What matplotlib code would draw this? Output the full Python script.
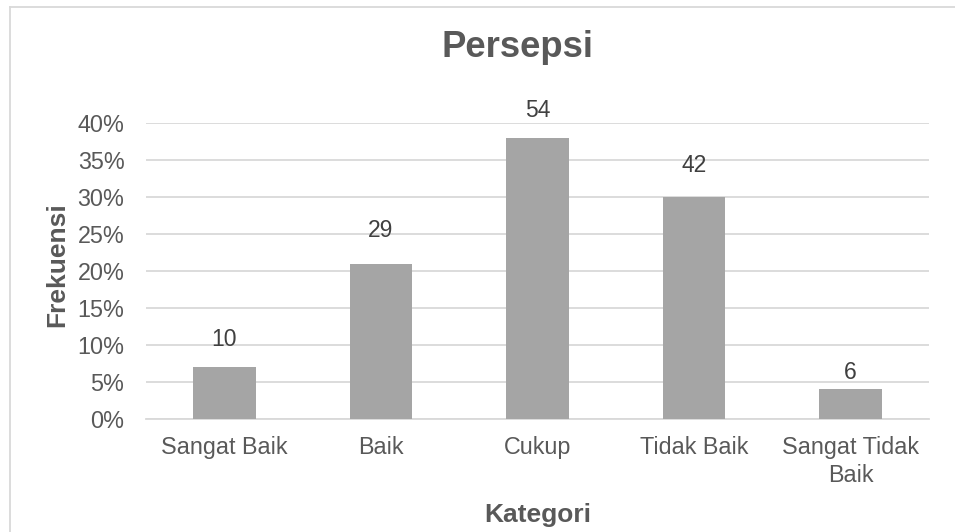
import numpy as np
import matplotlib
matplotlib.use("Agg")
import matplotlib.pyplot as plt
from matplotlib.lines import Line2D

plt.rcParams['font.family'] = ['Liberation Sans', 'DejaVu Sans']

kategori = ['Sangat Baik', 'Baik', 'Cukup', 'Tidak Baik', 'Sangat Tidak\nBaik']
frekuensi = np.array([10, 29, 54, 42, 6])
yticks = [0, 5, 10, 15, 20, 25, 30, 35, 40]

# percentage of respondents per category, rounded like the sheet does
persen = np.round(frekuensi / frekuensi.sum() * 100)

# label gap above each bar (points), the labels were nudged by hand
label_gap = [15, 19.5, 15, 18, 7.5]

W, H = 955, 532
fig = plt.figure(figsize=(W / 100, H / 100), dpi=100)
ax = fig.add_axes([146 / W, 113 / H, 783 / W, 296 / H])

grid_c = '#D9D9D9'
text_c = '#595959'
bar_c = '#A5A5A5'

x = np.arange(len(kategori))
bars = ax.bar(x, persen, width=0.4, color=bar_c, zorder=3)

for b, n, g in zip(bars, frekuensi, label_gap):
    ax.annotate(str(n), (b.get_x() + b.get_width() / 2, b.get_height()),
                xytext=(0, g), textcoords='offset points',
                ha='center', va='baseline', fontsize=16.5, color='#404040')

ax.set_xlim(-0.5, len(kategori) - 0.5)
ax.set_ylim(0, 40)
ax.set_yticks(yticks)
ax.set_yticklabels([f'{v}%' for v in yticks])
ax.set_xticks(x)
ax.set_xticklabels(kategori, linespacing=1.32)
ax.tick_params(axis='y', length=0, pad=15.5, labelsize=16.8, labelcolor=text_c)
ax.tick_params(axis='x', length=0, pad=12, labelsize=16.8, labelcolor=text_c)

ax.grid(axis='y', color=grid_c, linewidth=1.3, zorder=0)
for s in ['top', 'right', 'left']:
    ax.spines[s].set_visible(False)
ax.spines['bottom'].set_color(grid_c)
ax.spines['bottom'].set_linewidth(1.3)

fig.text(518 / W, 1 - 57 / H, 'Persepsi', ha='center', va='baseline',
         fontsize=26.3, fontweight='bold', color=text_c)
fig.text(537.5 / W, 1 - 522 / H, 'Kategori', ha='center', va='baseline',
         fontsize=19, fontweight='bold', color=text_c)
fig.text(57.5 / W, 1 - 265 / H, 'Frekuensi', ha='center', va='center',
         rotation=90, fontsize=19, fontweight='bold', color=text_c)

# chart frame (only top and left edges fall inside the canvas)
fig.add_artist(Line2D([10 / W, 1], [1 - 7 / H, 1 - 7 / H], color=grid_c, lw=1.3))
fig.add_artist(Line2D([10 / W, 10 / W], [0, 1 - 7 / H], color=grid_c, lw=1.3))

fig.savefig('out.png', dpi=100)
